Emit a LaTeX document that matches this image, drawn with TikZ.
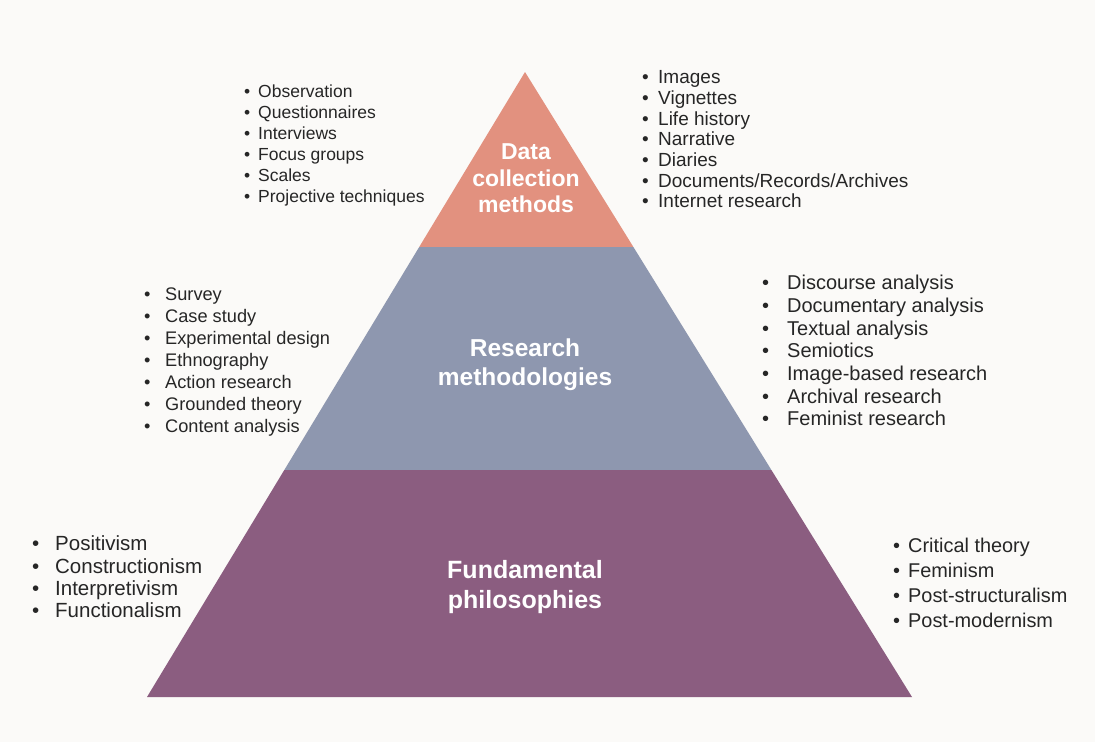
\documentclass[tikz,border=0pt]{standalone}
\usepackage{fontspec}
\setmainfont{Liberation Sans}
\definecolor{bgc}{HTML}{FBFAF8}
\definecolor{salmon}{HTML}{E2917F}
\definecolor{steel}{HTML}{8E97AF}
\definecolor{plum}{HTML}{8B5D80}
\definecolor{txt}{HTML}{262626}
\newcommand{\blt}[1]{\makebox[#1][l]{\textbullet}}
\begin{document}
\begin{tikzpicture}[x=1pt,y=-1pt,
  item/.style={anchor=west, inner sep=0pt, text=txt, text height=0.75em, text depth=0.2em},
  title/.style={align=center, text=white, inner sep=0pt}]
\fill[bgc] (0,0) rectangle (1095,742);
\useasboundingbox (0,0) rectangle (1095,742);
% pyramid
\coordinate (apex) at (525,72);
\coordinate (bl) at (147,697);
\coordinate (br) at (912,697);
\coordinate (l1) at (419.2,247);
\coordinate (r1) at (633.4,247);
\coordinate (l2) at (284.3,470);
\coordinate (r2) at (771.4,470);
\fill[salmon] (apex) -- (r1) -- (l1) -- cycle;
\fill[steel] (l1) -- (r1) -- (r2) -- (l2) -- cycle;
\fill[plum] (l2) -- (r2) -- (br) -- (bl) -- cycle;
% titles
\node[title, font=\bfseries\fontsize{23}{26.5}\selectfont] (t1) at (526,178.5) {Data\\collection\\methods};
\node[title, font=\bfseries\fontsize{24.5}{29}\selectfont] (t2) at (525,364.5) {Research\\methodologies};
\node[title, font=\bfseries\fontsize{25}{30}\selectfont] (t3) at (525,587) {Fundamental\\philosophies};
% data collection lists
\foreach \t [count=\i from 0] in {Observation,Questionnaires,Interviews,Focus groups,Scales,Projective techniques}
  \node[item, font=\fontsize{17.5}{21}\selectfont] (dl\i) at (244,95+21*\i) {\blt{14pt}\t};
\foreach \t [count=\i from 0] in {Images,Vignettes,Life history,Narrative,Diaries,Documents/Records/Archives,Internet research}
  \node[item, font=\fontsize{19}{21}\selectfont] (dr\i) at (642,81+20.7*\i) {\blt{16pt}\t};
% methodology lists
\foreach \t [count=\i from 0] in {Survey,Case study,Experimental design,Ethnography,Action research,Grounded theory,Content analysis}
  \node[item, font=\fontsize{18.2}{22}\selectfont] (ml\i) at (144,298+22*\i) {\blt{21pt}\t};
\foreach \t [count=\i from 0] in {Discourse analysis,Documentary analysis,Textual analysis,Semiotics,Image-based research,Archival research,Feminist research}
  \node[item, font=\fontsize{20}{23}\selectfont] (mr\i) at (762,287+22.7*\i) {\blt{25pt}\t};
% philosophy lists
\foreach \t [count=\i from 0] in {Positivism,Constructionism,Interpretivism,Functionalism}
  \node[item, font=\fontsize{20.5}{23}\selectfont] (fl\i) at (32,548+22.3*\i) {\blt{23pt}\t};
\foreach \t [count=\i from 0] in {Critical theory,Feminism,Post-structuralism,Post-modernism}
  \node[item, font=\fontsize{19.9}{24}\selectfont] (fr\i) at (893,550+25*\i) {\blt{15pt}\t};
\end{tikzpicture}
\end{document}
